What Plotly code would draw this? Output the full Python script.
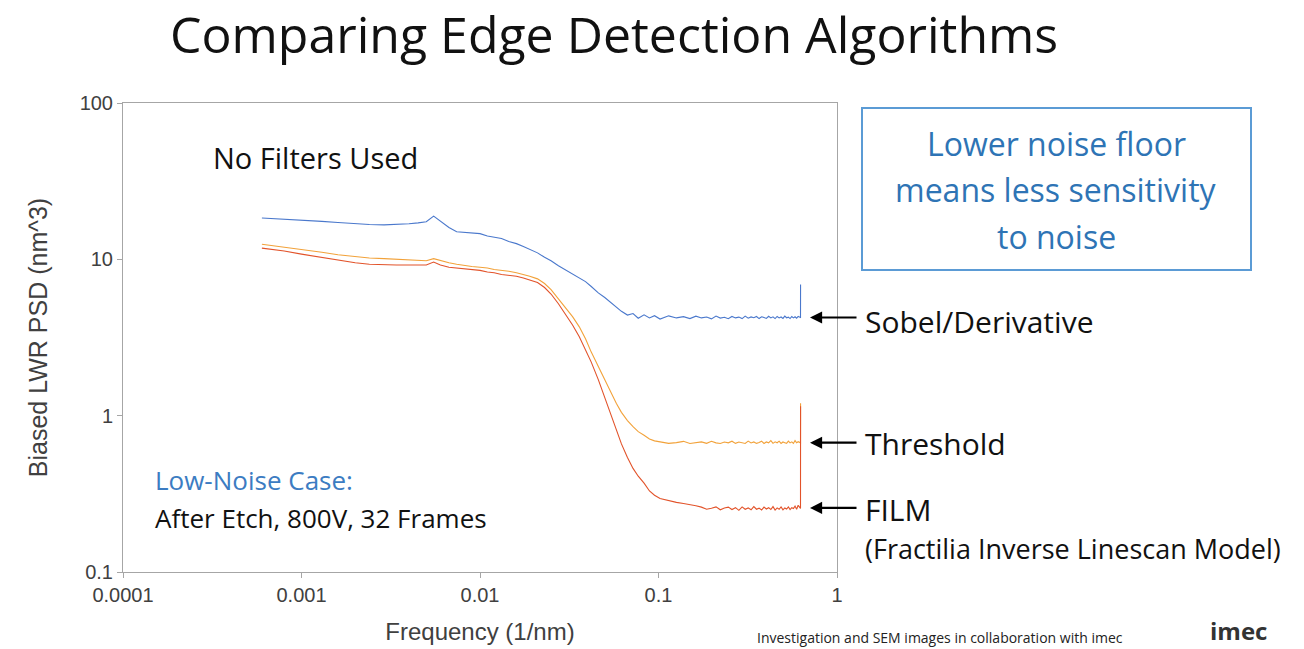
import numpy as np
import plotly.graph_objects as go

# ---------------- data ----------------
freq = [0.0006, 0.0008, 0.001, 0.0013, 0.0016, 0.002, 0.0024, 0.0029, 0.0034, 0.004,
        0.0045, 0.005, 0.0055, 0.006, 0.0067, 0.0074, 0.0082, 0.009, 0.01, 0.011,
        0.012, 0.0132, 0.0145, 0.016, 0.0175, 0.019, 0.021, 0.023, 0.025, 0.0275,
        0.03, 0.033, 0.036, 0.039, 0.042, 0.046, 0.05, 0.054, 0.058, 0.062,
        0.067, 0.072, 0.077, 0.083, 0.089, 0.095,
        0.102, 0.114, 0.126, 0.138, 0.150, 0.162, 0.174, 0.186, 0.198, 0.210,
        0.222, 0.234, 0.246, 0.258, 0.270, 0.282, 0.294, 0.306, 0.318, 0.330,
        0.342, 0.354, 0.366, 0.378, 0.390, 0.402, 0.414, 0.426, 0.438, 0.450,
        0.462, 0.474, 0.486, 0.498, 0.510, 0.522, 0.534, 0.546, 0.558, 0.570,
        0.582, 0.594, 0.606, 0.618,
        0.6245, 0.625]

sobel = [18.4, 18.1, 17.8, 17.5, 17.2, 16.9, 16.7, 16.6, 16.7, 16.9,
         17.1, 17.4, 18.9, 17.6, 16.0, 15.0, 14.9, 14.8, 14.6, 14.1,
         13.9, 13.6, 13.0, 12.6, 12.1, 11.6, 11.0, 10.3, 9.8, 9.1,
         8.6, 8.0, 7.6, 7.2, 6.7, 6.1, 5.7, 5.3, 4.9, 4.65,
         4.4, 4.5, 4.2, 4.42, 4.22, 4.36,
         4.15, 4.35, 4.22, 4.3, 4.18, 4.33, 4.22, 4.28, 4.16, 4.34,
         4.21, 4.26, 4.17, 4.31, 4.22, 4.27, 4.18, 4.33, 4.2, 4.28,
         4.23, 4.31, 4.18, 4.29, 4.25, 4.19, 4.32, 4.22, 4.29, 4.18,
         4.31, 4.22, 4.28, 4.19, 4.33, 4.23, 4.27, 4.18, 4.31, 4.22,
         4.29, 4.2, 4.31, 4.24,
         4.25, 6.9]

threshold = [12.5, 12.0, 11.6, 11.1, 10.7, 10.4, 10.2, 10.1, 10.0, 10.0,
             9.9, 9.8, 10.1, 9.8, 9.5, 9.3, 9.1, 9.0, 8.9, 8.8,
             8.6, 8.5, 8.4, 8.2, 8.0, 7.8, 7.5, 7.0, 6.4, 5.6,
             5.0, 4.3, 3.7, 3.1, 2.55, 2.05, 1.7, 1.42, 1.2, 1.05,
             0.93, 0.85, 0.79, 0.75, 0.71, 0.69,
             0.68, 0.665, 0.672, 0.685, 0.664, 0.671, 0.68, 0.665, 0.686, 0.67,
             0.664, 0.679, 0.67, 0.687, 0.665, 0.678, 0.671, 0.664, 0.688, 0.669,
             0.679, 0.665, 0.673, 0.687, 0.664, 0.679, 0.67, 0.692, 0.665, 0.68,
             0.671, 0.687, 0.664, 0.679, 0.672, 0.665, 0.688, 0.67, 0.68, 0.664,
             0.693, 0.671, 0.681, 0.668,
             0.67, 1.2]

film = [11.8, 11.3, 10.8, 10.3, 9.9, 9.5, 9.3, 9.2, 9.2, 9.2,
        9.2, 9.2, 9.6, 9.2, 8.9, 8.8, 8.7, 8.6, 8.5, 8.3,
        8.2, 8.0, 7.9, 7.8, 7.6, 7.4, 7.1, 6.6, 6.0, 5.2,
        4.5, 3.8, 3.2, 2.65, 2.2, 1.7, 1.3, 1.02, 0.82, 0.66,
        0.54, 0.46, 0.41, 0.37, 0.33, 0.31,
        0.295, 0.285, 0.279, 0.274, 0.27, 0.265, 0.26, 0.252, 0.256, 0.261,
        0.25, 0.257, 0.26, 0.251, 0.258, 0.248, 0.261, 0.252, 0.257, 0.25,
        0.262, 0.252, 0.256, 0.249, 0.26, 0.253, 0.258, 0.251, 0.262, 0.249,
        0.257, 0.252, 0.261, 0.25, 0.257, 0.253, 0.261, 0.251, 0.258, 0.255,
        0.264, 0.252, 0.267, 0.26,
        0.255, 1.15]

x_tickvals = [0.0001, 0.001, 0.01, 0.1, 1]
x_ticktext = ["0.0001", "0.001", "0.01", "0.1", "1"]
y_tickvals = [0.1, 1, 10, 100]
y_ticktext = ["0.1", "1", "10", "100"]

series_names = ["Sobel/Derivative", "Threshold", "FILM"]
series_vals = [sobel, threshold, film]
series_colors = ["#4A78CC", "#F2A23A", "#E2532A"]

# ---------------- figure ----------------
fig = go.Figure()
for name, vals, col in zip(series_names, series_vals, series_colors):
    fig.add_trace(go.Scatter(x=freq, y=vals, mode="lines", name=name,
                             line=dict(color=col, width=1.1), showlegend=False))

SLIDE = "Open Sans, Noto Sans, sans-serif"
AXF = "Liberation Sans, Arial, sans-serif"

axis_common = dict(type="log", showline=True, mirror=True, linecolor="#A6A6A6", linewidth=1,
                   ticks="outside", ticklen=5, tickcolor="#A6A6A6", showgrid=False, zeroline=False,
                   tickfont=dict(family=AXF, size=20, color="#404040"))

fig.update_xaxes(range=[-4, 0], tickvals=x_tickvals, ticktext=x_ticktext,
                 title=dict(text="Frequency (1/nm)", font=dict(family=AXF, size=24, color="#404040"),
                            standoff=18),
                 **axis_common)
fig.update_yaxes(range=[-1, 2], tickvals=y_tickvals, ticktext=y_ticktext,
                 title=dict(text="Biased LWR PSD (nm^3)", font=dict(family=AXF, size=25, color="#404040"),
                            standoff=24),
                 **axis_common)

L, R, T, B = 123, 837, 103, 572
W, H = 1304, 649
pw, ph = R - L, B - T


def px(xp):
    return (xp - L) / pw


def py(yp):
    return (B - yp) / ph


ann = []
# title
ann.append(dict(text="Comparing Edge Detection Algorithms", x=px(614), y=py(34), xref="paper", yref="paper",
                showarrow=False, font=dict(family=SLIDE, size=50, color="#111111"),
                xanchor="center", yanchor="middle"))
# in-plot texts
ann.append(dict(text="No Filters Used", x=px(315), y=py(158), xref="paper", yref="paper", showarrow=False,
                font=dict(family=SLIDE, size=29, color="#111111"), xanchor="center", yanchor="middle"))
ann.append(dict(text="Low-Noise Case:", x=px(153), y=py(480), xref="paper", yref="paper", showarrow=False,
                font=dict(family=SLIDE, size=26, color="#3C7CC2"), xanchor="left", yanchor="middle"))
ann.append(dict(text="After Etch, 800V, 32 Frames", x=px(153), y=py(518), xref="paper", yref="paper",
                showarrow=False, font=dict(family=SLIDE, size=26, color="#111111"),
                xanchor="left", yanchor="middle"))

# arrows + labels
floor_levels = [np.median(v[46:90]) for v in series_vals]
label_y = [321, 443, 509]
for name, lvl, ly in zip(series_names, floor_levels, label_y):
    ann.append(dict(x=px(810), y=np.log10(lvl), xref="paper", yref="y", ax=48, ay=0, text="",
                    showarrow=True, arrowhead=2, arrowsize=1.1, arrowwidth=2.2, arrowcolor="#000000"))
    ann.append(dict(text=name, x=px(863), y=py(ly), xref="paper", yref="paper", showarrow=False,
                    font=dict(family=SLIDE, size=30, color="#111111"), xanchor="left", yanchor="middle"))
ann.append(dict(text="(Fractilia Inverse Linescan Model)", x=px(863), y=py(548), xref="paper", yref="paper",
                showarrow=False, font=dict(family=SLIDE, size=27, color="#111111"),
                xanchor="left", yanchor="middle"))

# callout box text
box_lines = ["Lower noise floor", "means less sensitivity", "to noise"]
for txt, yy in zip(box_lines, [143, 189, 236]):
    ann.append(dict(text=txt, x=px(1056), y=py(yy), xref="paper", yref="paper", showarrow=False,
                    font=dict(family=SLIDE, size=32, color="#2E74B5"), xanchor="center", yanchor="middle"))

# footer
ann.append(dict(text="Investigation and SEM images in collaboration with imec", x=px(940), y=py(649),
                xref="paper", yref="paper", showarrow=False, font=dict(family=SLIDE, size=14, color="#222222"),
                xanchor="center", yanchor="bottom"))
ann.append(dict(text="<b>imec</b>", x=px(1238), y=py(649), xref="paper", yref="paper", showarrow=False,
                font=dict(family=SLIDE, size=24, color="#333333"), xanchor="center", yanchor="bottom"))

shapes = [dict(type="rect", xref="paper", yref="paper", x0=px(862), x1=px(1251), y0=py(270), y1=py(108),
               line=dict(color="#5B9BD5", width=2), fillcolor="rgba(0,0,0,0)")]

fig.update_layout(width=W, height=H, margin=dict(l=L, r=W - R, t=T, b=H - B, autoexpand=False),
                  paper_bgcolor="white", plot_bgcolor="white", annotations=ann, shapes=shapes,
                  showlegend=False)

fig.write_html("out.html", include_plotlyjs=True, config=dict(displayModeBar=False))
